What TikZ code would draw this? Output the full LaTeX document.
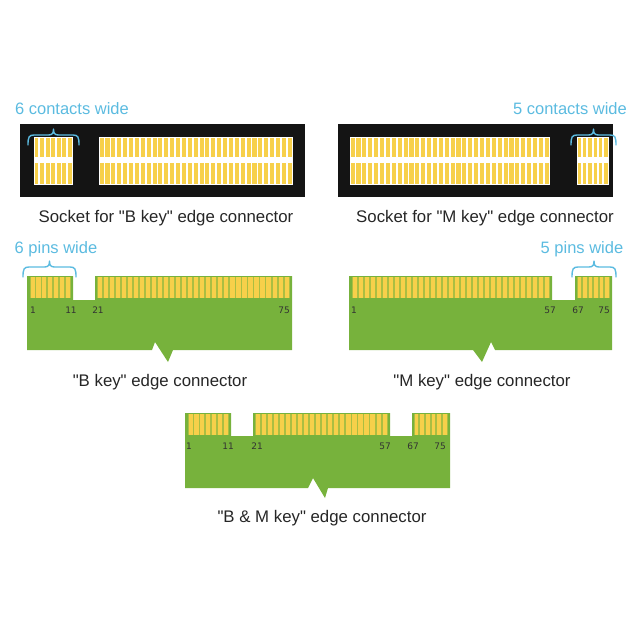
\documentclass[tikz,border=0pt]{standalone}
\usepackage{fontspec}
\setmainfont{Liberation Sans}[Ligatures=TeXOff]
\newfontfamily\pinfont{DejaVu Sans}
\definecolor{pcb}{HTML}{77B23C}
\definecolor{gold}{HTML}{F7D04A}
\definecolor{lbl}{HTML}{5BBBE0}
\definecolor{sock}{HTML}{141414}
\newcommand\dq{"}
\tikzset{
 captxt/.style={font=\fontsize{16.8}{19}\selectfont, text=black!85},
 bluetxt/.style={font=\fontsize{16.5}{19}\selectfont, text=lbl},
 pin/.style={font=\pinfont\fontsize{9}{10}\selectfont, text=black!80, inner sep=0pt},
 brace/.style={draw=lbl, line width=1.4pt, line cap=round, line join=round}
}
% stripes: x1 x2 y1 y2 n colour
\newcommand\mystripes[6]{%
 \pgfmathsetmacro\pp{(#2-#1)/#5}%
 \foreach \i in {1,...,#5}{%
  \fill[#6] ({#1+(\i-1)*\pp+0.6},#3) rectangle ({#1+\i*\pp-1.2},#4);}}
\newcommand\mybrace[3]{% x1 x2 y(bottom ends)
 \pgfmathsetmacro\mm{(#1+#2)/2}%
 \draw[brace] (#1,#3) .. controls (#1,#3-8) and (#1+1,#3-10) .. (#1+6,#3-10)
   -- (\mm-5,#3-10) .. controls (\mm-1,#3-10) and (\mm,#3-12) .. (\mm,#3-16)
   .. controls (\mm,#3-12) and (\mm+1,#3-10) .. (\mm+5,#3-10)
   -- (#2-6,#3-10) .. controls (#2-1,#3-10) and (#2,#3-8) .. (#2,#3);}
\begin{document}
\begin{tikzpicture}[x=1pt,y=-1pt]
\useasboundingbox (0,0) rectangle (640,640);
% ---------- sockets ----------
\fill[sock] (20,124) rectangle (305,197);
\fill[white] (34,137) rectangle (73,185);
\fill[white] (99,137) rectangle (293,185);
\mystripes{34}{73}{138}{157}{7}{gold}
\mystripes{34}{73}{163}{184}{7}{gold}
\mystripes{99}{293}{138}{157}{33}{gold}
\mystripes{99}{293}{163}{184}{33}{gold}
\mybrace{28}{79}{145}
\node[bluetxt] (t1) at (72,109) {6 contacts wide};
\node[captxt] (c1) at (166,218) {Socket for \dq B key\dq{} edge connector};

\fill[sock] (338,124) rectangle (613,197);
\fill[white] (350,137) rectangle (550,185);
\fill[white] (577,137) rectangle (609,185);
\mystripes{350}{550}{138}{157}{34}{gold}
\mystripes{350}{550}{163}{184}{34}{gold}
\mystripes{577}{609}{138}{157}{6}{gold}
\mystripes{577}{609}{163}{184}{6}{gold}
\mybrace{571}{616}{145}
\node[bluetxt] (t2) at (570,109) {5 contacts wide};
\node[captxt] (c2) at (485,218) {Socket for \dq M key\dq{} edge connector};

% ---------- B key ----------
\fill[pcb] (27,276) -- (73,276) -- (73,300) -- (95,300) -- (95,276) -- (292,276) -- (292,350)
  -- (173,350) -- (168,362) -- (155,342) -- (152,350) -- (27,350) -- cycle;
\fill[pcb!60!gold] (30,277) rectangle (71,298);
\fill[pcb!60!gold] (97,277) rectangle (290,298);
\mystripes{30}{71}{277}{298}{7}{gold}
\mystripes{97}{290}{277}{298}{32}{gold}
\mybrace{23}{76}{277}
\node[bluetxt] (t3) at (56,249) {6 pins wide};
\node[pin] at (33,310) {1};
\node[pin] at (71,310) {11};
\node[pin] at (98,310) {21};
\node[pin] at (284,310) {75};
\node[captxt] (c3) at (160,382) {\dq B key\dq{} edge connector};

% ---------- M key ----------
\fill[pcb] (349,276) -- (552,276) -- (552,300) -- (575,300) -- (575,276) -- (612,276) -- (612,350)
  -- (495,350) -- (491,342) -- (482,362) -- (473,350) -- (349,350) -- cycle;
\fill[pcb!60!gold] (352,277) rectangle (550,298);
\fill[pcb!60!gold] (577,277) rectangle (610,298);
\mystripes{352}{550}{277}{298}{33}{gold}
\mystripes{577}{610}{277}{298}{6}{gold}
\mybrace{572}{616}{277}
\node[bluetxt] (t4) at (582,249) {5 pins wide};
\node[pin] at (354,310) {1};
\node[pin] at (550,310) {57};
\node[pin] at (578,310) {67};
\node[pin] at (604,310) {75};
\node[captxt] (c4) at (482,382) {\dq M key\dq{} edge connector};

% ---------- B & M key ----------
\fill[pcb] (185,413) -- (231,413) -- (231,436) -- (253,436) -- (253,413) -- (390,413) -- (390,436)
  -- (412,436) -- (412,413) -- (450,413) -- (450,488)
  -- (328,488) -- (325,498) -- (313,478) -- (308,488) -- (185,488) -- cycle;
\fill[pcb!60!gold] (188,414) rectangle (229,435);
\fill[pcb!60!gold] (255,414) rectangle (388,435);
\fill[pcb!60!gold] (414,414) rectangle (448,435);
\mystripes{188}{229}{414}{435}{7}{gold}
\mystripes{255}{388}{414}{435}{22}{gold}
\mystripes{414}{448}{414}{435}{6}{gold}
\node[pin] at (189,446) {1};
\node[pin] at (228,446) {11};
\node[pin] at (257,446) {21};
\node[pin] at (385,446) {57};
\node[pin] at (413,446) {67};
\node[pin] at (440,446) {75};
\node[captxt] (c5) at (322,518) {\dq B \& M key\dq{} edge connector};
\end{tikzpicture}
\end{document}
